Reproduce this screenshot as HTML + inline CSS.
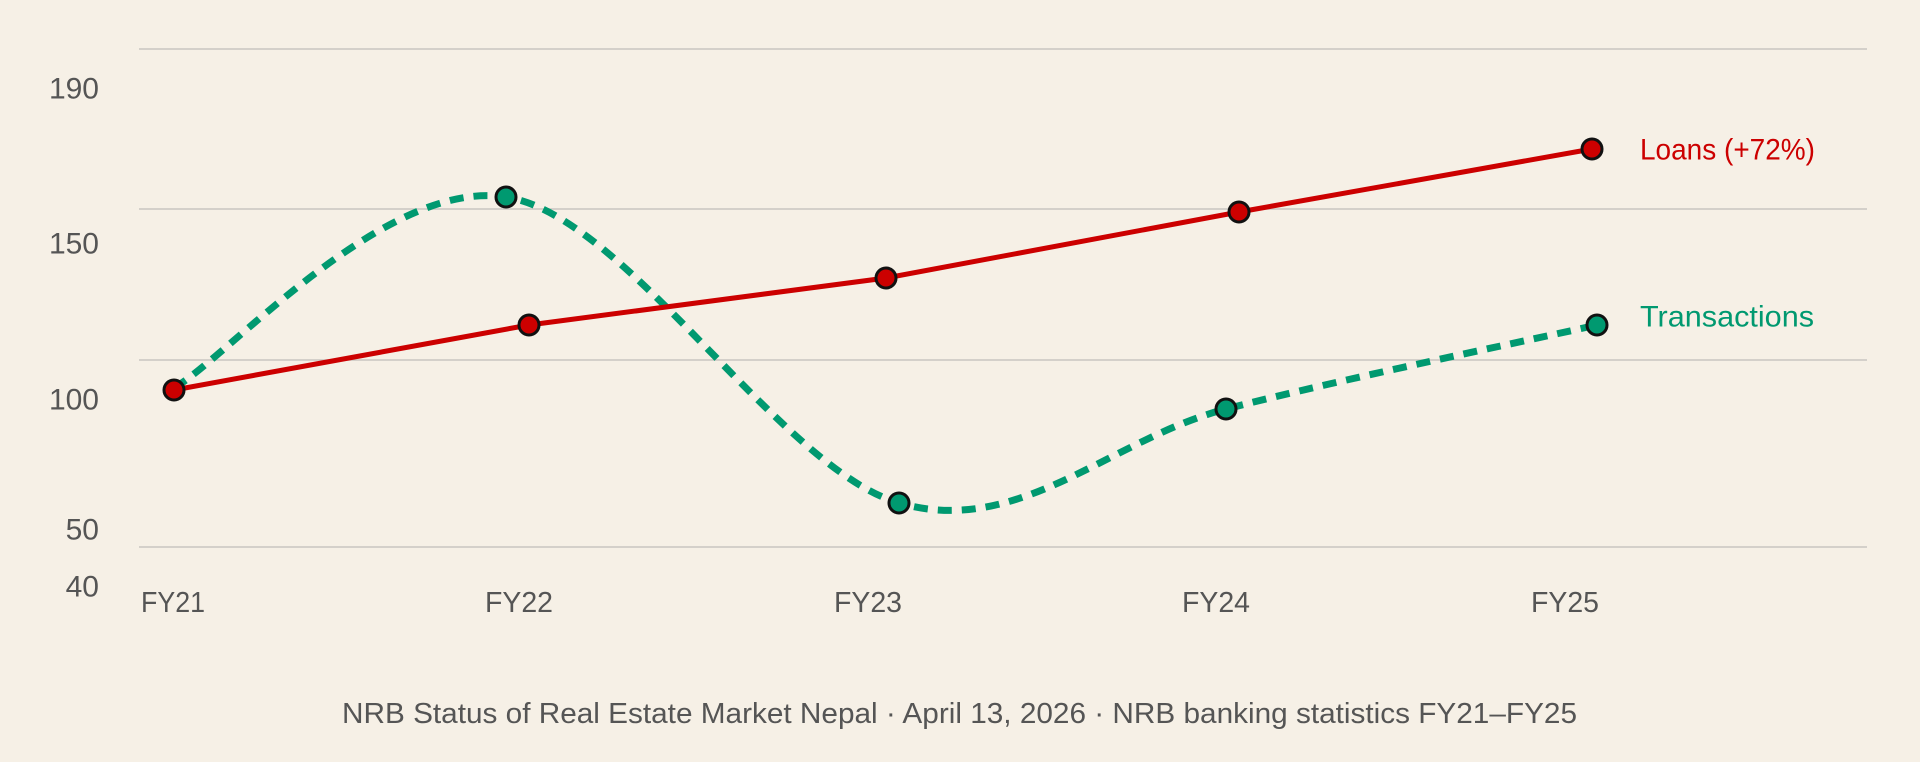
<!DOCTYPE html>
<html><head><meta charset="utf-8"><style>
html,body{margin:0;padding:0;background:#f6f0e6;}
svg{display:block;}
text{font-family:"Liberation Sans",sans-serif;}
</style></head><body>
<svg width="1920" height="762" viewBox="0 0 1920 762" xmlns="http://www.w3.org/2000/svg">
<rect width="1920" height="762" fill="#f6f0e6"/>
<g stroke="#c8c6c0" stroke-width="1.5">
<line x1="139" y1="49" x2="1867" y2="49"/>
<line x1="139" y1="209" x2="1867" y2="209"/>
<line x1="139" y1="360" x2="1867" y2="360"/>
<line x1="139" y1="547" x2="1867" y2="547"/>
</g>
<g fill="#555" font-size="30" text-anchor="end" dominant-baseline="central">
<text x="99" y="89">190</text>
<text x="99" y="244">150</text>
<text x="99" y="400">100</text>
<text x="99" y="530">50</text>
<text x="99" y="587">40</text>
</g>
<g fill="#555" font-size="29" text-anchor="middle" dominant-baseline="central">
<text x="173" y="603" textLength="64" lengthAdjust="spacingAndGlyphs">FY21</text>
<text x="519" y="603" textLength="68" lengthAdjust="spacingAndGlyphs">FY22</text>
<text x="868" y="603" textLength="68" lengthAdjust="spacingAndGlyphs">FY23</text>
<text x="1216" y="603" textLength="68" lengthAdjust="spacingAndGlyphs">FY24</text>
<text x="1565" y="603" textLength="68" lengthAdjust="spacingAndGlyphs">FY25</text>
</g>
<path d="M174,388 C229,356 385,178 506,197 C627,216 779,468 899,503 C1019,538 1110,439 1226,409 C1342,379 1535,339 1597,325" fill="none" stroke="#009970" stroke-width="7" stroke-dasharray="14,10"/>
<polyline points="174,390 529,325 886,278 1239,212 1592,149" fill="none" stroke="#cc0000" stroke-width="5"/>
<g stroke="#111" stroke-width="3">
<circle cx="506" cy="197" r="10" fill="#009970"/>
<circle cx="899" cy="503" r="10" fill="#009970"/>
<circle cx="1226" cy="409" r="10" fill="#009970"/>
<circle cx="1597" cy="325" r="10" fill="#009970"/>
<circle cx="174" cy="390" r="10" fill="#cc0000"/>
<circle cx="529" cy="325" r="10" fill="#cc0000"/>
<circle cx="886" cy="278" r="10" fill="#cc0000"/>
<circle cx="1239" cy="212" r="10" fill="#cc0000"/>
<circle cx="1592" cy="149" r="10" fill="#cc0000"/>
</g>
<text x="1640" y="150" font-size="30" fill="#cc0000" dominant-baseline="central" textLength="175" lengthAdjust="spacingAndGlyphs">Loans (+72%)</text>
<text x="1640" y="317" font-size="30" fill="#009970" dominant-baseline="central" textLength="174" lengthAdjust="spacingAndGlyphs">Transactions</text>
<text x="342" y="714" font-size="29" fill="#555" dominant-baseline="central" textLength="1235" lengthAdjust="spacingAndGlyphs">NRB Status of Real Estate Market Nepal · April 13, 2026 · NRB banking statistics FY21–FY25</text>
</svg>
</body></html>
